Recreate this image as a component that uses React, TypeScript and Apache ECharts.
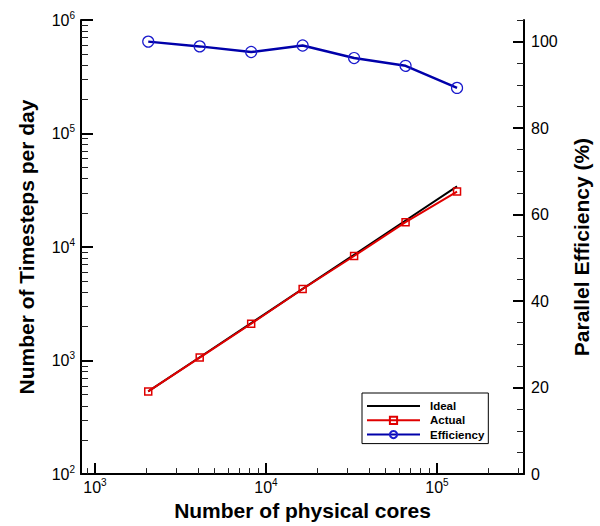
import React, { useEffect, useRef } from 'react';
import * as echarts from 'echarts';

// Data
const cores = [2048, 4096, 8192, 16384, 32768, 65536, 131072];
const idealSteps = [535, 1070, 2140, 4280, 8560, 17120, 34240];
const actualSteps = [535, 1062, 2110, 4270, 8340, 16570, 30800];
const efficiencyPct = [100, 98.9, 97.6, 99.1, 96.2, 94.4, 89.3];

// Axis tick definitions (exponents for the log axes)
const xMajorExp = [3, 4, 5];
const yMajorExp = [2, 3, 4, 5, 6];
const effMajor = [0, 20, 40, 60, 80, 100];

const X_MIN = Math.log10(828);
const X_MAX = Math.log10(323000);
const Y_MIN = 2;
const Y_MAX = 6;
const EFF_MIN = 0;
const EFF_MAX = 105;

function logMinor(lo: number, hi: number): number[] {
  const out: number[] = [];
  for (let d = Math.floor(lo) - 1; d <= Math.ceil(hi); d++) {
    for (let m = 2; m <= 9; m++) {
      const v = d + Math.log10(m);
      if (v > lo + 1e-6 && v < hi - 1e-6) out.push(v);
    }
  }
  return out;
}

const effMinor: number[] = [];
for (let v = 5; v <= 105; v += 5) if (v % 20 !== 0) effMinor.push(v);

const FONT = '"Liberation Sans", Arial, Helvetica, sans-serif';

const rich = {
  a: { fontSize: 16, fontFamily: FONT, color: '#000', lineHeight: 20 },
  b: { fontSize: 10, fontFamily: FONT, color: '#000', verticalAlign: 'top', lineHeight: 12 },
};
const powFmt = (v: number) => `{a|10}{b|${Math.round(v)}}`;

export default function App() {
  const ref = useRef<HTMLDivElement>(null);
  useEffect(() => {
    if (!ref.current) return;
    const chart = echarts.init(ref.current, undefined, { renderer: 'svg' });
    const lx = cores.map((c) => Math.log10(c));
    const option: any = {
      animation: false,
      backgroundColor: '#fff',
      grid: { left: 81, right: 76, top: 20, bottom: 50 },
      legend: {
        orient: 'vertical',
        left: 362,
        top: 393,
        itemWidth: 53,
        itemHeight: 9,
        itemGap: 2.3,
        padding: [7, 4, 3, 4],
        borderColor: '#000',
        borderWidth: 1,
        backgroundColor: '#fff',
        textStyle: { fontWeight: 'bold', fontSize: 11.5, color: '#000', fontFamily: FONT, padding: [0, 0, 0, 5] },
        data: [
          { name: 'Ideal', icon: 'path://M0,0h53v2h-53z' },
          'Actual',
          'Efficiency',
        ],
      },
      xAxis: [
        {
          type: 'value',
          min: X_MIN,
          max: X_MAX,
          position: 'bottom',
          name: 'Number of physical cores',
          nameLocation: 'middle',
          nameGap: 23,
          nameTextStyle: { fontSize: 21, fontWeight: 'bold', color: '#000', fontFamily: FONT },
          axisLine: { show: true, lineStyle: { color: '#000', width: 2 } },
          axisTick: { show: true, customValues: xMajorExp, inside: true, length: 11, lineStyle: { color: '#000', width: 2 } },
          axisLabel: { customValues: xMajorExp, formatter: powFmt, rich, margin: 3 },
          splitLine: { show: false },
        },
        {
          type: 'value',
          min: X_MIN,
          max: X_MAX,
          position: 'bottom',
          axisLine: { show: false },
          axisTick: { show: true, customValues: logMinor(X_MIN, X_MAX), inside: true, length: 6, lineStyle: { color: '#222', width: 1 } },
          axisLabel: { show: false },
          splitLine: { show: false },
        },
      ],
      yAxis: [
        {
          type: 'value',
          min: Y_MIN,
          max: Y_MAX,
          position: 'left',
          name: 'Number of Timesteps per day',
          nameLocation: 'middle',
          nameGap: 44,
          nameRotate: 90,
          nameTextStyle: { fontSize: 21, fontWeight: 'bold', color: '#000', fontFamily: FONT },
          axisLine: { show: true, lineStyle: { color: '#000', width: 2 } },
          axisTick: { show: true, customValues: yMajorExp, inside: true, length: 12, lineStyle: { color: '#000', width: 2 } },
          axisLabel: { customValues: yMajorExp, formatter: powFmt, rich, margin: 6 },
          splitLine: { show: false },
        },
        {
          type: 'value',
          min: Y_MIN,
          max: Y_MAX,
          position: 'left',
          axisLine: { show: false },
          axisTick: { show: true, customValues: logMinor(Y_MIN, Y_MAX), inside: true, length: 7, lineStyle: { color: '#222', width: 1 } },
          axisLabel: { show: false },
          splitLine: { show: false },
        },
        {
          type: 'value',
          min: EFF_MIN,
          max: EFF_MAX,
          position: 'right',
          name: 'Parallel Efficiency (%)',
          nameLocation: 'middle',
          nameGap: 47,
          nameRotate: 90,
          nameTextStyle: { fontSize: 21, fontWeight: 'bold', color: '#000', fontFamily: FONT },
          axisLine: { show: true, lineStyle: { color: '#000', width: 2 } },
          axisTick: { show: true, customValues: effMajor, inside: true, length: 11, lineStyle: { color: '#000', width: 2 } },
          axisLabel: { customValues: effMajor, fontSize: 16, color: '#000', fontFamily: FONT, margin: 7 },
          splitLine: { show: false },
        },
        {
          type: 'value',
          min: EFF_MIN,
          max: EFF_MAX,
          position: 'right',
          axisLine: { show: false },
          axisTick: { show: true, customValues: effMinor, inside: true, length: 7, lineStyle: { color: '#222', width: 1 } },
          axisLabel: { show: false },
          splitLine: { show: false },
        },
      ],
      series: [
        {
          name: 'Ideal',
          type: 'line',
          xAxisIndex: 0,
          yAxisIndex: 0,
          data: lx.map((x, i) => [x, Math.log10(idealSteps[i])]),
          symbol: 'none',
          lineStyle: { color: '#000', width: 2 },
          itemStyle: { color: '#000' },
          z: 2,
        },
        {
          name: 'Actual',
          type: 'line',
          xAxisIndex: 0,
          yAxisIndex: 0,
          data: lx.map((x, i) => [x, Math.log10(actualSteps[i])]),
          symbol: 'rect',
          symbolSize: 7,
          lineStyle: { color: '#e00000', width: 2 },
          itemStyle: { color: 'rgba(255,255,255,0)', borderColor: '#e00000', borderWidth: 1.5 },
          z: 3,
        },
        {
          name: 'Efficiency',
          type: 'line',
          xAxisIndex: 0,
          yAxisIndex: 2,
          data: lx.map((x, i) => [x, efficiencyPct[i]]),
          symbol: 'circle',
          symbolSize: 11,
          lineStyle: { color: '#0000aa', width: 2.5 },
          itemStyle: { color: 'rgba(255,255,255,0)', borderColor: '#1a1acc', borderWidth: 1.2 },
          z: 4,
        },
      ],
    };
    chart.setOption(option);
    return () => chart.dispose();
  }, []);
  return (
    <div
      ref={ref}
      style={{ position: 'fixed', left: 0, top: 0, width: 600, height: 526, background: '#fff' }}
    />
  );
}
